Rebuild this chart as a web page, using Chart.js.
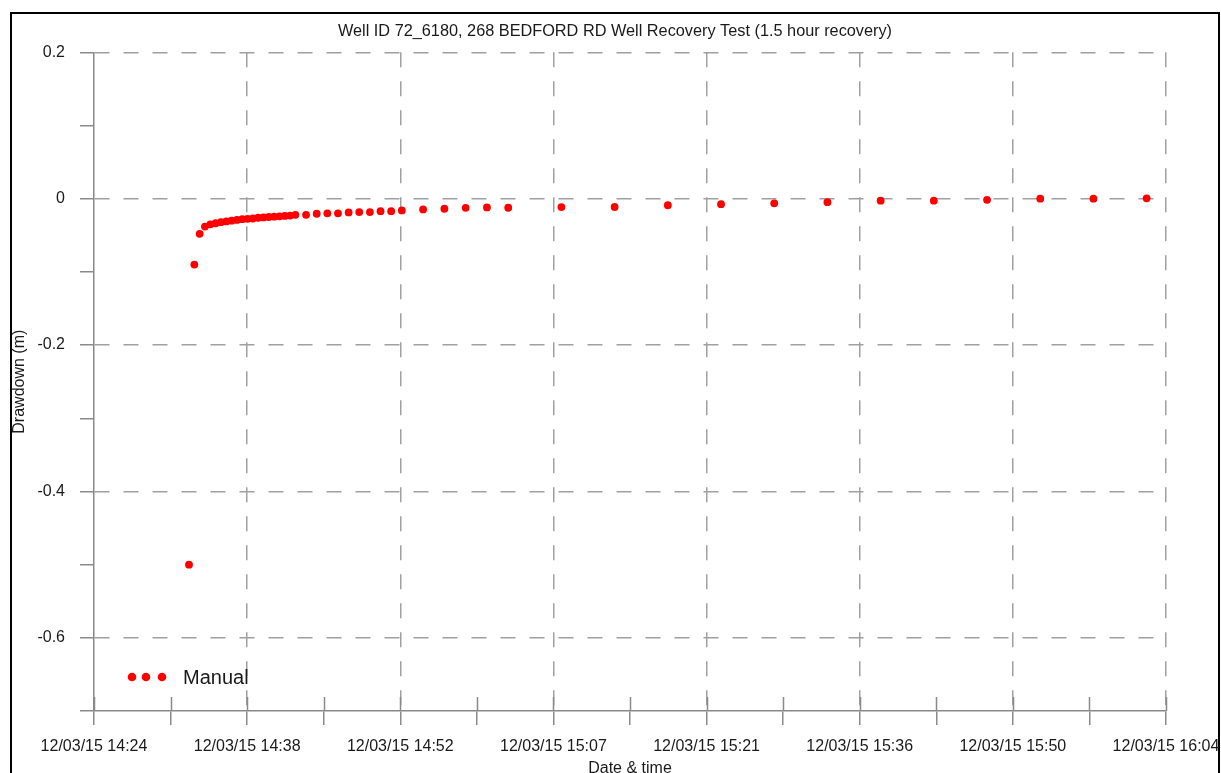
<!DOCTYPE html>
<html>
<head>
<meta charset="utf-8">
<title>Well Recovery Test</title>
<script src="https://cdn.jsdelivr.net/npm/chart.js@4.4.0/dist/chart.umd.min.js"></script>
<style>
    html, body { margin: 0; padding: 0; background: #fff; overflow: hidden; }
    #frame { position: absolute; left: 10px; top: 12px; width: 1206px; height: 900px; border: 2px solid #000; }
    #wrap { position: absolute; left: 0; top: 0; width: 1221px; height: 790px; }
</style>
</head>
<body>
<div id="frame"></div>
<div id="wrap"><canvas id="chart"></canvas></div>
<script>
/* ============================
   Well recovery test - manual readings
   x = minutes after axis start (12/03/15 14:24)
   ============================ */

const elapsedMin = [
    8.93, 9.43, 9.93, 10.43, 10.93, 11.43, 11.93, 12.43, 12.93, 13.43, 13.93,
    14.43, 14.93, 15.43, 15.93, 16.43, 16.93, 17.43, 17.93, 18.43, 18.93,
    19.93, 20.93, 21.93, 22.93, 23.93, 24.93, 25.93, 26.93, 27.93, 28.93,
    30.93, 32.93, 34.93, 36.93, 38.93,
    43.93, 48.93, 53.93, 58.93, 63.93, 68.93, 73.93, 78.93, 83.93, 88.93, 93.93, 98.93
];

const drawdown = [
    -0.500, -0.090, -0.048, -0.038, -0.035, -0.0335, -0.032, -0.031, -0.030, -0.029, -0.028,
    -0.0275, -0.027, -0.026, -0.0255, -0.025, -0.0245, -0.024, -0.0235, -0.023, -0.022,
    -0.022, -0.0205, -0.020, -0.020, -0.0187, -0.0183, -0.0183, -0.017, -0.017, -0.016,
    -0.0146, -0.0137, -0.0124, -0.0119, -0.0123,
    -0.0114, -0.0113, -0.0089, -0.0074, -0.0063, -0.0047, -0.0026, -0.0026, -0.0015, 0, 0, 0.0005
];

const xTickLabels = [
    '12/03/15 14:24', '', '12/03/15 14:38', '', '12/03/15 14:52', '', '12/03/15 15:07', '',
    '12/03/15 15:21', '', '12/03/15 15:36', '', '12/03/15 15:50', '', '12/03/15 16:04'
];
const X_MAX = 100.75;

const yTicks = [0.2, 0.1, 0, -0.1, -0.2, -0.3, -0.4, -0.5, -0.6, -0.7];
const yTickLabels = ['0.2', '', '0', '', '-0.2', '', '-0.4', '', '-0.6', ''];

const FONT = "'Liberation Sans', Arial, sans-serif";
const TEXT = '#1a1a1a';
const AXIS = '#8a8a8a';
const GRID = '#a0a0a0';
const RED = '#ff0000';

// x tick marks also cross into the plot area
const innerTicks = {
    id: 'innerTicks',
    beforeDatasetsDraw(chart) {
        const { ctx, chartArea, scales: { x } } = chart;
        ctx.save();
        ctx.strokeStyle = AXIS;
        ctx.lineWidth = 1.5;
        x.ticks.forEach(t => {
            const px = Math.round(x.getPixelForValue(t.value)) + 0.5;
            ctx.beginPath();
            ctx.moveTo(px, chartArea.bottom);
            ctx.lineTo(px, chartArea.bottom - 14);
            ctx.stroke();
        });
        ctx.restore();
    }
};

// legend: three dots + series name, bottom-left inside plot
const dotLegend = {
    id: 'dotLegend',
    afterDatasetsDraw(chart) {
        const { ctx, chartArea } = chart;
        const ds = chart.data.datasets[0];
        const cy = chartArea.bottom - 34;
        ctx.save();
        ctx.fillStyle = ds.pointBackgroundColor;
        [38, 52, 68].forEach(dx => {
            ctx.beginPath();
            ctx.arc(chartArea.left + dx, cy, 4.3, 0, Math.PI * 2);
            ctx.fill();
        });
        ctx.fillStyle = TEXT;
        ctx.font = `20px ${FONT}`;
        ctx.textBaseline = 'middle';
        ctx.fillText(ds.label, chartArea.left + 89, cy + 1);
        ctx.restore();
    }
};

new Chart(document.getElementById('chart'), {
    type: 'scatter',
    data: {
        datasets: [{
            label: 'Manual',
            data: elapsedMin.map((t, i) => ({ x: t, y: drawdown[i] })),
            pointBackgroundColor: RED,
            pointBorderWidth: 0,
            pointRadius: 3.9,
            pointHoverRadius: 3.9,
            showLine: false
        }]
    },
    options: {
        responsive: true, maintainAspectRatio: false,
        animation: false,
        layout: { padding: { left: 9, right: 0, top: 0, bottom: 0 } },
        plugins: {
            legend: { display: false },
            tooltip: { enabled: false },
            title: {
                display: true,
                text: 'Well ID 72_6180, 268 BEDFORD RD Well Recovery Test (1.5 hour recovery)',
                color: TEXT,
                font: { family: FONT, size: 16.3, weight: 'normal' },
                padding: { top: 21.5, bottom: 11.3 }
            }
        },
        scales: {
            x: {
                type: 'linear', min: 0, max: X_MAX,
                afterFit: s => { s.height = 79; s.paddingLeft = 0; s.paddingRight = 55; },
                afterBuildTicks: s => { s.ticks = xTickLabels.map((_, i) => ({ value: i * X_MAX / 14 })); },
                ticks: {
                    autoSkip: false, maxRotation: 0, padding: 12,
                    color: TEXT, font: { family: FONT, size: 16 },
                    callback: (v, i) => xTickLabels[i]
                },
                grid: {
                    color: c => (c.index > 0 && c.index % 2 === 0) ? GRID : 'transparent',
                    lineWidth: 1.5,
                    tickColor: AXIS, tickLength: 14, tickWidth: 1.5
                },
                border: { display: true, color: AXIS, width: 1.5, dash: [15, 14] },
                title: {
                    display: true, text: 'Date & time', color: TEXT,
                    font: { family: FONT, size: 16 }, padding: { top: 0, bottom: 11.4 }
                }
            },
            y: {
                type: 'linear', min: -0.7, max: 0.2,
                afterFit: s => { s.width = 85; },
                afterBuildTicks: s => { s.ticks = yTicks.map(v => ({ value: v })); },
                ticks: {
                    padding: 15, color: TEXT, font: { family: FONT, size: 16 },
                    callback: (v, i) => yTickLabels[i]
                },
                grid: {
                    color: c => (c.tick && Math.round(c.tick.value * 10) % 2 === 0) ? GRID : 'transparent',
                    lineWidth: 1.5,
                    tickColor: AXIS, tickLength: 14, tickWidth: 1.5
                },
                border: { display: true, color: AXIS, width: 1.5, dash: [15, 14] },
                title: {
                    display: true, text: 'Drawdown (m)', color: TEXT,
                    font: { family: FONT, size: 16 }, padding: { top: 1.4, bottom: 0 }
                }
            }
        }
    },
    plugins: [innerTicks, dotLegend]
});
</script>
</body>
</html>
